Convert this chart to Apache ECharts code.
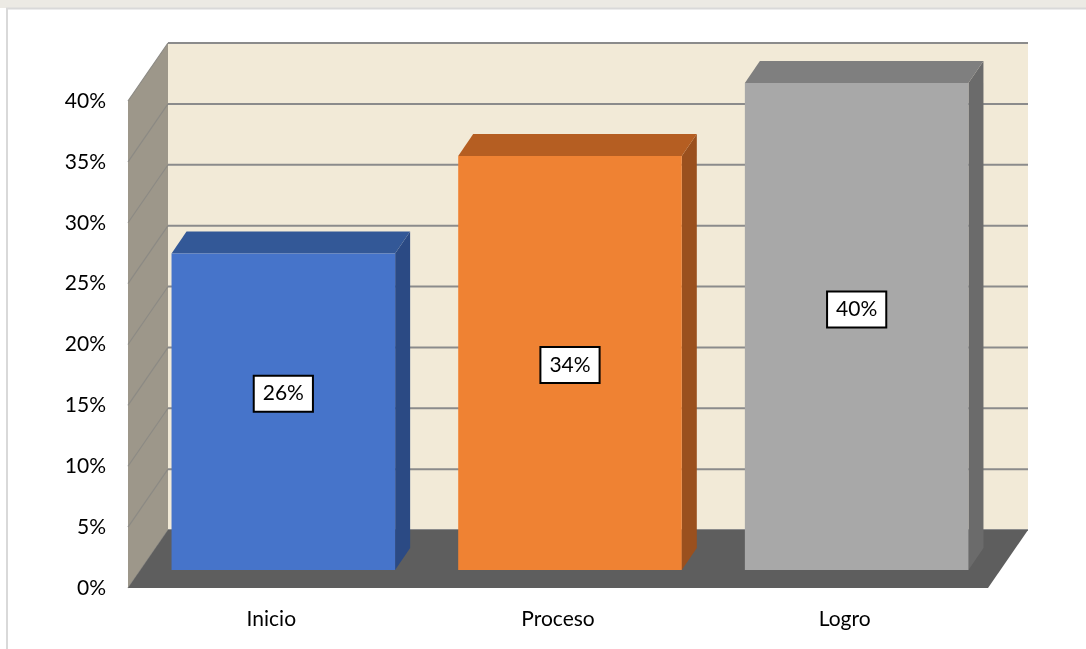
<!DOCTYPE html>
<html>
<head>
<meta charset="utf-8">
<script src="https://cdn.jsdelivr.net/npm/echarts@6/dist/echarts.min.js"></script>
<style>
  html, body { margin: 0; padding: 0; background: #ffffff; }
  #chart { width: 1086px; height: 649px; }
</style>
</head>
<body>
<div id="chart"></div>
<script>
// Chart data
const categories = ['Inicio', 'Proceso', 'Logro'];
const values = [26, 34, 40];
const yTicks = [0, 5, 10, 15, 20, 25, 30, 35, 40];

// Colours of the three faces of each column
const faceColors = ['#4674CA', '#EF8233', '#A8A8A8'];
const topColors = ['#335897', '#B55E22', '#7F7F7F'];
const sideColors = ['#2B4A84', '#9A501E', '#6B6B6B'];

// Vertical nudge (px) of each value box from its column's middle
const labelLift = [-18, 2, -17];

// Oblique projection of the 3-D box
const WALL_DX = 40, WALL_DY = -58;      // full depth of the chart box
const BAR_DX = 12, BAR_DY = -18;        // column front plane inside the box
const BAR_DEPTH_DX = 15, BAR_DEPTH_DY = -22; // column thickness
const BAR_FILL = 0.78;                  // column width as share of a category band
const FONT = 'Lato, "Open Sans", sans-serif';

const yMax = yTicks[yTicks.length - 1];

function renderBox(params, api) {
  const cs = params.coordSys;
  const x0 = cs.x, x1 = cs.x + cs.width;
  const yBase = api.coord([0, 0])[1];
  const yTop = api.coord([0, yMax])[1];
  const children = [];
  // back wall
  children.push({
    type: 'polygon',
    shape: { points: [[x0 + WALL_DX, yTop + WALL_DY], [x1 + WALL_DX, yTop + WALL_DY],
                      [x1 + WALL_DX, yBase + WALL_DY], [x0 + WALL_DX, yBase + WALL_DY]] },
    style: { fill: '#F2EAD7' }
  });
  // side wall
  children.push({
    type: 'polygon',
    shape: { points: [[x0, yBase], [x0, yTop], [x0 + WALL_DX, yTop + WALL_DY], [x0 + WALL_DX, yBase + WALL_DY]] },
    style: { fill: '#9D978A' }
  });
  // gridlines across side wall and back wall
  yTicks.forEach(function (v) {
    const y = api.coord([0, v])[1];
    children.push({
      type: 'polyline',
      shape: { points: [[x0, y], [x0 + WALL_DX, y + WALL_DY]] },
      style: { stroke: '#8C8A84', lineWidth: 1.2, fill: null }
    });
    children.push({
      type: 'polyline',
      shape: { points: [[x0 + WALL_DX, y + WALL_DY], [x1 + WALL_DX, y + WALL_DY]] },
      style: { stroke: '#8B8B8B', lineWidth: 2, fill: null }
    });
  });
  // floor
  children.push({
    type: 'polygon',
    shape: { points: [[x0, yBase], [x1, yBase], [x1 + WALL_DX, yBase + WALL_DY], [x0 + WALL_DX, yBase + WALL_DY]] },
    style: { fill: '#5E5E5E' }
  });
  return { type: 'group', children: children };
}

function renderColumn(params, api) {
  const i = api.value(0);
  const v = api.value(1);
  const top = api.coord([i, v]);
  const base = api.coord([i, 0]);
  const bw = api.size([1, 0])[0] * BAR_FILL;
  const xl = top[0] - bw / 2 + BAR_DX;
  const xr = top[0] + bw / 2 + BAR_DX;
  const yt = top[1] + BAR_DY;
  const yb = base[1] + BAR_DY;
  const dx = BAR_DEPTH_DX, dy = BAR_DEPTH_DY;
  return {
    type: 'group',
    children: [
      { type: 'polygon',
        shape: { points: [[xr, yt], [xr + dx, yt + dy], [xr + dx, yb + dy], [xr, yb]] },
        style: { fill: sideColors[i] } },
      { type: 'polygon',
        shape: { points: [[xl, yt], [xl + dx, yt + dy], [xr + dx, yt + dy], [xr, yt]] },
        style: { fill: topColors[i] } },
      { type: 'rect',
        shape: { x: xl, y: yt, width: xr - xl, height: yb - yt },
        style: { fill: faceColors[i] } },
      { type: 'text',
        style: {
          x: (xl + xr) / 2, y: (yt + yb) / 2 + labelLift[i],
          text: v + '%', fill: '#000000', font: '21px ' + FONT,
          align: 'center', verticalAlign: 'middle',
          backgroundColor: '#ffffff', borderColor: '#000000', borderWidth: 2,
          padding: [7, 8, 6, 8]
        } }
    ]
  };
}

const chart = echarts.init(document.getElementById('chart'), null, { renderer: 'canvas' });
chart.setOption({
  backgroundColor: '#ffffff',
  animation: false,
  graphic: [
    { type: 'rect', shape: { x: 0, y: 0, width: 1086, height: 8 }, style: { fill: '#ECEAE4' } },
    { type: 'rect', shape: { x: 7, y: 8.5, width: 1200, height: 800 },
      style: { fill: null, stroke: '#D9D9D9', lineWidth: 2 } }
  ],
  grid: { left: 128, right: 98, top: 101, bottom: 61 },
  xAxis: {
    type: 'category',
    data: categories,
    axisLine: { show: false },
    axisTick: { show: false },
    axisLabel: { color: '#000000', fontSize: 21, fontFamily: FONT, margin: 21 }
  },
  yAxis: {
    type: 'value',
    min: 0,
    max: yMax,
    interval: 5,
    axisLine: { show: false },
    axisTick: { show: false },
    splitLine: { show: false },
    axisLabel: { color: '#000000', fontSize: 21, fontFamily: FONT, margin: 22,
                 padding: [6, 0, 0, 0], formatter: '{value}%' }
  },
  series: [
    { type: 'custom', z: 1, clip: false, renderItem: renderBox, data: [[0, 0]], silent: true },
    { type: 'custom', z: 2, clip: false, renderItem: renderColumn,
      data: values.map(function (v, i) { return [i, v]; }) }
  ]
});
</script>
</body>
</html>
